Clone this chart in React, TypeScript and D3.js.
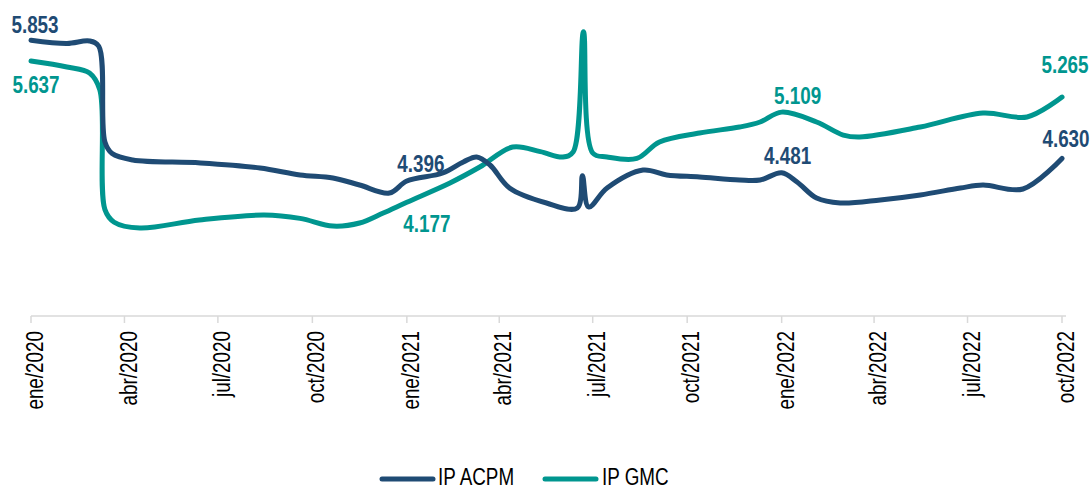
import { useMemo } from 'react';
import * as d3 from 'd3';

const WIDTH = 1092;
const HEIGHT = 489;
const AXIS_Y = 316;
const X_LEFT = 31;
const X_RIGHT = 1062;
const FONT = "'Liberation Sans', Arial, sans-serif";
// the chart uses a narrow face; squeeze the regular one horizontally
const NARROW = 0.82;
const FONT_SIZE = 23;

const ACPM_COLOR = '#1f4b74';
const GMC_COLOR = '#00968f';

const ACPM_DATES = [
  '2020-01-01', '2020-02-05', '2020-02-27', '2020-03-07', '2020-03-13', '2020-03-20',
  '2020-04-09', '2020-06-14', '2020-08-11', '2020-09-19', '2020-10-21', '2020-11-16',
  '2020-12-15', '2021-01-01', '2021-02-05', '2021-02-25', '2021-03-10', '2021-03-23',
  '2021-04-11', '2021-05-17', '2021-06-16', '2021-06-21', '2021-06-27', '2021-07-15',
  '2021-08-19', '2021-09-11', '2021-10-13', '2021-11-21', '2021-12-11', '2022-01-01',
  '2022-01-16', '2022-02-04', '2022-02-27', '2022-04-07', '2022-05-16', '2022-06-24',
  '2022-07-16', '2022-08-24', '2022-10-01',
];
const ACPM_VALUES = [
  5.853, 5.82, 5.845, 5.79, 4.8, 4.68,
  4.614, 4.583, 4.531, 4.459, 4.428, 4.355,
  4.272, 4.396, 4.479, 4.593, 4.645, 4.562,
  4.324, 4.169, 4.117, 4.45, 4.128, 4.324,
  4.51, 4.459, 4.438, 4.407, 4.407, 4.481,
  4.386, 4.22, 4.169, 4.2, 4.252, 4.324,
  4.355, 4.314, 4.63,
];

const GMC_DATES = [
  '2020-01-01', '2020-02-05', '2020-02-27', '2020-03-08', '2020-03-13', '2020-03-22',
  '2020-04-16', '2020-06-13', '2020-08-15', '2020-09-19', '2020-10-21', '2020-11-16',
  '2020-12-09', '2021-01-01', '2021-02-12', '2021-03-13', '2021-04-14', '2021-05-11',
  '2021-06-02', '2021-06-12', '2021-06-22', '2021-07-01', '2021-07-15', '2021-08-13',
  '2021-09-04', '2021-10-13', '2021-11-21', '2021-12-11', '2022-01-01', '2022-02-04',
  '2022-03-02', '2022-03-18', '2022-05-16', '2022-07-16', '2022-08-28', '2022-10-01',
];
const GMC_VALUES = [
  5.637, 5.576, 5.514, 5.34, 4.1, 3.97,
  3.91, 3.993, 4.045, 4.01, 3.93, 3.962,
  4.065, 4.177, 4.376, 4.541, 4.748, 4.7,
  4.645, 4.697, 5.94, 4.686, 4.645, 4.63,
  4.8, 4.893, 4.955, 5.007, 5.109, 5.007,
  4.872, 4.852, 4.955, 5.1, 5.059, 5.265,
];

const TICK_DATES = [
  '2020-01-01', '2020-04-01', '2020-07-01', '2020-10-01', '2021-01-01', '2021-04-01',
  '2021-07-01', '2021-10-01', '2022-01-01', '2022-04-01', '2022-07-01', '2022-10-01',
];
const TICK_LABELS = [
  'ene/2020', 'abr/2020', 'jul/2020', 'oct/2020', 'ene/2021', 'abr/2021',
  'jul/2021', 'oct/2021', 'ene/2022', 'abr/2022', 'jul/2022', 'oct/2022',
];

// labelled points: series, date, shown text (dx/dy = label offset from the point)
const LABELS = [
  { series: 'acpm', date: '2020-01-01', text: '5.853', dx: 4, dy: -7 },
  { series: 'gmc', date: '2020-01-01', text: '5.637', dx: 5, dy: 32 },
  { series: 'acpm', date: '2021-01-01', text: '4.396', dx: 14, dy: -9 },
  { series: 'gmc', date: '2021-01-01', text: '4.177', dx: 20, dy: 30 },
  { series: 'gmc', date: '2022-01-01', text: '5.109', dx: 16, dy: -8 },
  { series: 'acpm', date: '2022-01-01', text: '4.481', dx: 6, dy: -9 },
  { series: 'gmc', date: '2022-10-01', text: '5.265', dx: 3, dy: -24 },
  { series: 'acpm', date: '2022-10-01', text: '4.630', dx: 4, dy: -11 },
];

const parse = d3.timeParse('%Y-%m-%d');

export default function App() {
  const { acpmPath, gmcPath, x, y, acpm, gmc } = useMemo(() => {
    const x = d3.scaleTime()
      .domain([parse('2020-01-01')!, parse('2022-10-01')!])
      .range([X_LEFT, X_RIGHT]);
    const y = d3.scaleLinear().domain([3, 6]).range([AXIS_Y, 26]);

    const acpm = ACPM_DATES.map((d, i) => ({ date: parse(d)!, value: ACPM_VALUES[i] }));
    const gmc = GMC_DATES.map((d, i) => ({ date: parse(d)!, value: GMC_VALUES[i] }));

    const line = d3.line<{ date: Date; value: number }>()
      .x((d) => x(d.date))
      .y((d) => y(d.value))
      .curve(d3.curveCatmullRom.alpha(0.5));

    return { acpmPath: line(acpm) || '', gmcPath: line(gmc) || '', x, y, acpm, gmc };
  }, []);

  const findPoint = (series: string, date: string) => {
    const arr = series === 'acpm' ? acpm : gmc;
    const t = parse(date)!.getTime();
    return arr.find((p) => p.date.getTime() === t)!;
  };

  return (
    <svg
      width={WIDTH}
      height={HEIGHT}
      viewBox={`0 0 ${WIDTH} ${HEIGHT}`}
      style={{ position: 'absolute', left: 0, top: 0, background: '#fff' }}
      fontFamily={FONT}
      fontSize={FONT_SIZE}
    >
      {/* x axis */}
      <line x1={X_LEFT} x2={X_RIGHT + 4} y1={AXIS_Y} y2={AXIS_Y} stroke="#d9d9d9" strokeWidth={1.5} />
      {TICK_DATES.map((d, i) => {
        const tx = x(parse(d)!);
        return (
          <g key={d}>
            <line x1={tx} x2={tx} y1={AXIS_Y} y2={AXIS_Y + 7} stroke="#d9d9d9" strokeWidth={1.5} />
            <text
              transform={`translate(${tx + 4},${AXIS_Y + 15}) rotate(-90) scale(${NARROW},1)`}
              textAnchor="end"
              dy="0.35em"
              fill="#000"
            >
              {TICK_LABELS[i]}
            </text>
          </g>
        );
      })}

      <path d={gmcPath} fill="none" stroke={GMC_COLOR} strokeWidth={5} strokeLinecap="round" strokeLinejoin="round" />
      <path d={acpmPath} fill="none" stroke={ACPM_COLOR} strokeWidth={5} strokeLinecap="round" strokeLinejoin="round" />

      {LABELS.map((l) => {
        const p = findPoint(l.series, l.date);
        return (
          <text
            key={l.series + l.date}
            transform={`translate(${x(p.date) + l.dx},${y(p.value) + l.dy}) scale(${NARROW},1)`}
            textAnchor="middle"
            fontWeight="bold"
            fill={l.series === 'acpm' ? ACPM_COLOR : GMC_COLOR}
          >
            {l.text}
          </text>
        );
      })}

      {/* legend */}
      <g transform="translate(380,479)">
        <line x1={2} x2={53} y1={0} y2={0} stroke={ACPM_COLOR} strokeWidth={5} strokeLinecap="round" />
        <text transform={`translate(58,6) scale(${NARROW},1)`} fill="#000">IP ACPM</text>
        <line x1={165} x2={216} y1={0} y2={0} stroke={GMC_COLOR} strokeWidth={5} strokeLinecap="round" />
        <text transform={`translate(222,6) scale(${NARROW},1)`} fill="#000">IP GMC</text>
      </g>
    </svg>
  );
}
